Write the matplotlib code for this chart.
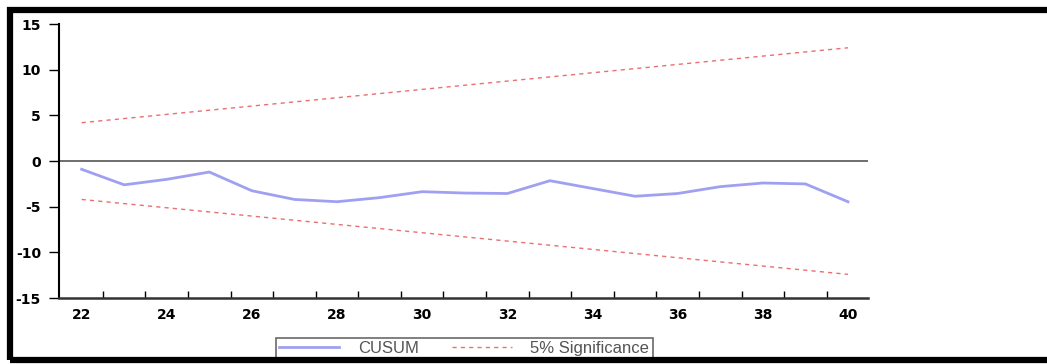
### Modules
import numpy as np
import matplotlib
matplotlib.use('Agg')
from matplotlib import pyplot as plt
from matplotlib.patches import Rectangle

### Data
years = [22, 23, 24, 25, 26, 27, 28, 29, 30, 31,
         32, 33, 34, 35, 36, 37, 38, 39, 40]
cusum = [-0.9, -2.6, -2.0, -1.2, -3.25, -4.2, -4.45, -4.0, -3.35, -3.5,
         -3.55, -2.15, -3.0, -3.85, -3.55, -2.8, -2.4, -2.5, -4.45]

# 5% significance bounds (straight lines, endpoints)
bound_years = [22, 40]
upper_bound = [4.2, 12.4]
lower_bound = [-4.2, -12.4]

y_ticks = [15, 10, 5, 0, -5, -10, -15]
x_labels = [22, 24, 26, 28, 30, 32, 34, 36, 38, 40]

### Figure and axes
fig = plt.figure(figsize=(10.47, 3.64), dpi=100)
ax = fig.add_axes([0.0564, 0.181, 0.7726, 0.753])

# Thick black frame round the figure (drawn above the legend)
frame = Rectangle((0.0095, 0.011), 1.05, 0.961
                  ,transform=fig.transFigure
                  ,fill=False
                  ,edgecolor='black'
                  ,linewidth=4.5
                  ,clip_on=False
                  ,zorder=10
                  )
fig.patches.append(frame)

# Zero line
ax.axhline(0, color='#555555', linewidth=1.2, zorder=1)

# CUSUM and bounds
ax.plot(years, cusum
        ,color='#a0a0f2'
        ,linewidth=2.0
        ,label='CUSUM'
        )
ax.plot(bound_years, upper_bound
        ,color='#e87070'
        ,linewidth=1.0
        ,linestyle=(0, (3, 3))
        ,label='5% Significance'
        )
ax.plot(bound_years, lower_bound
        ,color='#e87070'
        ,linewidth=1.0
        ,linestyle=(0, (3, 3))
        )

### Axes styling
ax.set_xlim(21.47, 40.47)
ax.set_ylim(-15, 15)

ax.spines['top'].set_visible(False)
ax.spines['right'].set_visible(False)
ax.spines['left'].set_linewidth(1.5)
ax.spines['bottom'].set_linewidth(1.8)
ax.spines['bottom'].set_color('#333333')

ax.set_yticks(y_ticks)
ax.set_yticklabels([str(v) for v in y_ticks])
ax.tick_params(axis='y', direction='out', length=7, width=1.0, pad=6,
               labelsize=10)

ax.set_xticks(x_labels)
ax.set_xticklabels([str(v) for v in x_labels])
ax.set_xticks(np.arange(22.5, 40.5, 1.0), minor=True)
ax.tick_params(axis='x', which='major', length=0, pad=7, labelsize=10)
ax.tick_params(axis='x', which='minor', direction='in', length=5, width=1.0)

for lab in ax.get_xticklabels() + ax.get_yticklabels():
    lab.set_fontweight('heavy')
    lab.set_family('DejaVu Sans')

# Legend at the bottom, sitting on the frame
leg = fig.legend(loc='lower center'
                 ,bbox_to_anchor=(0.4435, 0.012)
                 ,ncol=2
                 ,frameon=True
                 ,fancybox=False
                 ,edgecolor='#444444'
                 ,prop={'family': 'Liberation Sans', 'size': 12}
                 ,handlelength=3.6
                 ,columnspacing=2.0
                 ,borderpad=0.2
                 ,borderaxespad=0.0
                 ,handletextpad=1.1
                 )
leg.get_frame().set_linewidth(1.2)
for txt in leg.get_texts():
    txt.set_color('#555555')

plt.savefig('out.png', dpi=100)
